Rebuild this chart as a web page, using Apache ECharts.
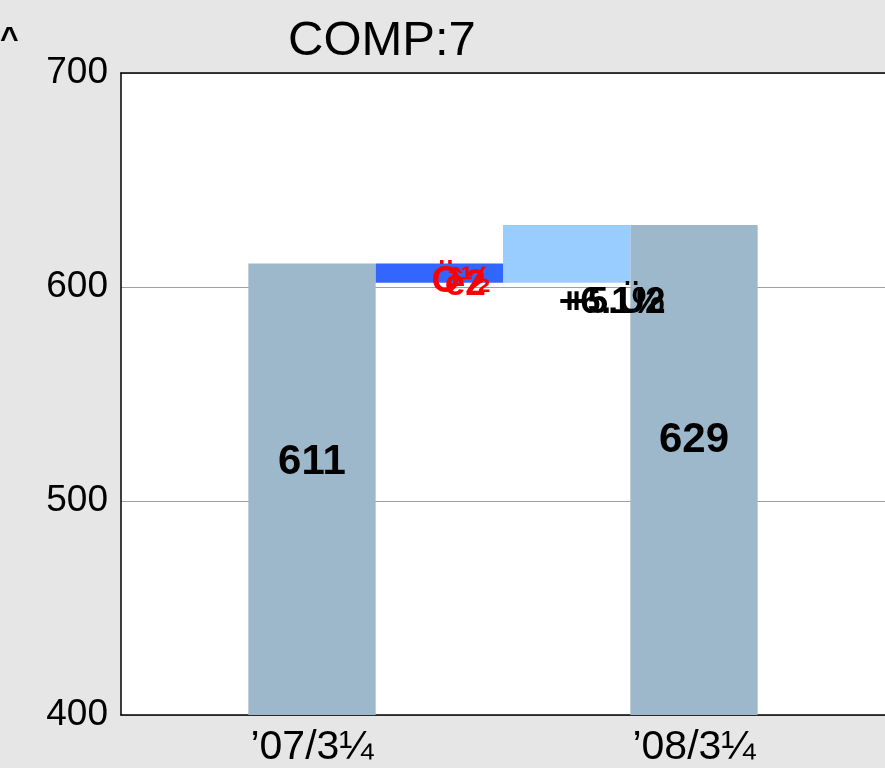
<!DOCTYPE html>
<html>
<head>
<meta charset="utf-8">
<script src="https://cdn.jsdelivr.net/npm/echarts@6/dist/echarts.min.js"></script>
<style>
  html, body { margin: 0; padding: 0; background: #e6e6e6; }
  #chart { width: 885px; height: 768px; }
</style>
</head>
<body>
<div id="chart"></div>
<script>
// data
var categories = ['', '\u201907/3\u00bc', '', '', '\u201908/3\u00bc', '']
var totals = [null, 611, null, null, 629, null]
var baseVals = [null, null, 602, 602, null, null]
var decrease = [null, null, 9, null, null, null]
var increase = [null, null, null, 27, null, null]
var yTicks = [400, 500, 600, 700]
var redLabels = ['\u00d6\u00bd', '\u00ea2']
var blackLabels = ['+6.1%', '+5.\u00dc2']

var myChart = echarts.init(document.getElementById('chart'))
var font = 'Liberation Sans, Arial, sans-serif'

// transparent bar that only carries a label (the overlapping texts)
function labelSeries (data, text, color, pos, offset, stackName) {
  return {
    type: 'bar',
    stack: stackName,
    data: data,
    barWidth: '100%',
    itemStyle: { color: 'transparent' },
    silent: true,
    label: {
      show: true,
      position: pos,
      offset: offset,
      formatter: function () { return text },
      color: color,
      fontSize: 37,
      fontWeight: 'bold',
      fontFamily: font
    },
    z: 5
  }
}

var topOfDecrease = decrease.map(function (v, i) { return v == null ? null : baseVals[i] + v })
var baseOfIncrease = baseVals.map(function (v, i) { return increase[i] == null ? null : v })

var option = {
  backgroundColor: '#e6e6e6',
  animation: false,
  title: {
    text: 'COMP:7',
    left: 283,
    top: 12,
    textStyle: { fontSize: 49, fontWeight: 'normal', color: '#000', fontFamily: font }
  },
  graphic: [{
    type: 'text',
    left: 0,
    top: 24,
    style: { text: '^', fill: '#000', font: 'bold 32px ' + font }
  }],
  grid: { left: 121, top: 73, right: -7, bottom: 53, backgroundColor: '#fff', show: true, borderWidth: 0 },
  xAxis: [{
    type: 'category',
    data: categories,
    axisTick: { show: false },
    axisLine: { lineStyle: { color: '#000', width: 1.5 } },
    axisLabel: { color: '#000', fontSize: 41, fontFamily: font, margin: 12, interval: 0 }
  }, {
    type: 'category',
    position: 'top',
    data: categories,
    axisTick: { show: false },
    axisLabel: { show: false },
    axisLine: { lineStyle: { color: '#000', width: 1.5 } }
  }],
  yAxis: {
    type: 'value',
    min: yTicks[0],
    max: yTicks[yTicks.length - 1],
    interval: 100,
    axisLine: { show: true, lineStyle: { color: '#000', width: 1.5 } },
    axisTick: { show: false },
    axisLabel: { color: '#000', fontSize: 37, fontFamily: font, margin: 13 },
    splitLine: { lineStyle: { color: '#a0a0a0', width: 1.2 } }
  },
  series: [
    {
      type: 'bar',
      data: totals,
      barWidth: '100%',
      barGap: '-100%',
      itemStyle: { color: '#9db7cb' },
      label: {
        show: true,
        position: ['50%', '44%'],
        align: 'center',
        verticalAlign: 'middle',
        color: '#000',
        fontSize: 42,
        fontWeight: 'bold',
        fontFamily: font
      }
    },
    {
      type: 'bar',
      stack: 'wf',
      data: baseVals,
      barWidth: '100%',
      barGap: '-100%',
      itemStyle: { color: 'transparent' },
      silent: true
    },
    {
      type: 'bar',
      stack: 'wf',
      data: decrease,
      barWidth: '100%',
      itemStyle: { color: '#3366ff' }
    },
    {
      type: 'bar',
      stack: 'wf',
      data: increase,
      barWidth: '100%',
      itemStyle: { color: '#99ccff' }
    },
    labelSeries(topOfDecrease, redLabels[0], '#ff0000', 'insideTop', [22, -5], 'r1'),
    labelSeries(topOfDecrease, redLabels[1], '#ff0000', 'insideTop', [26, -2], 'r2'),
    labelSeries(baseOfIncrease, blackLabels[0], '#000', 'top', [45, 44], 'b1'),
    labelSeries(baseOfIncrease, blackLabels[1], '#000', 'top', [49, 44], 'b2')
  ]
}

myChart.setOption(option)
</script>
</body>
</html>
